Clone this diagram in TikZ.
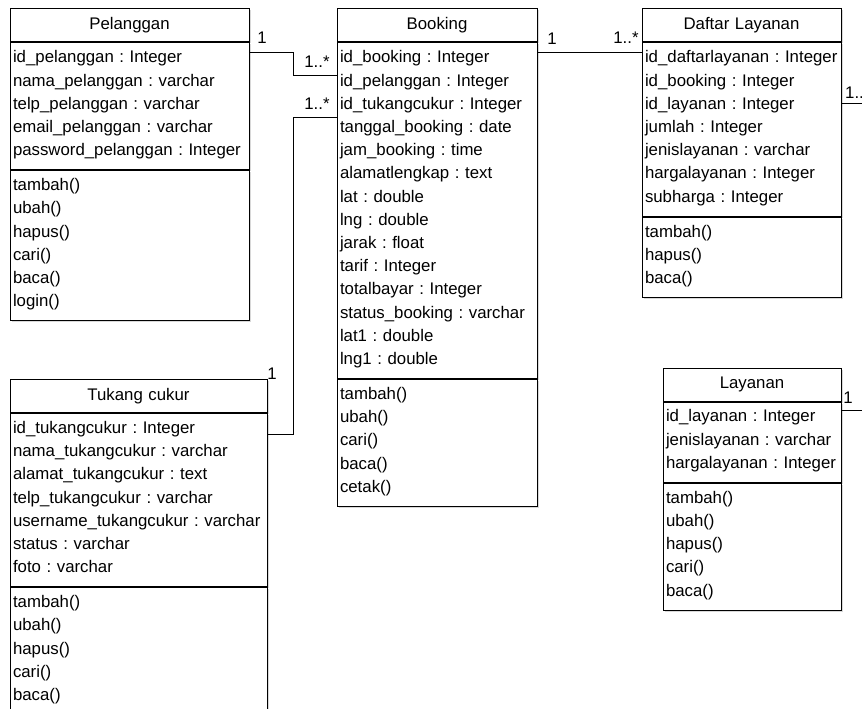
\documentclass[tikz,border=0pt]{standalone}
\usepackage{fontspec}
\setmainfont{Liberation Sans}
\usetikzlibrary{positioning,shadows}
\frenchspacing
\newcommand{\umlfont}{\fontsize{16.8pt}{23.2pt}\selectfont\hyphenpenalty=10000\exhyphenpenalty=10000}
\newcommand{\rs}{\rule[-8.7pt]{0pt}{23.2pt}}
\tikzset{
    boxshadow/.style={drop shadow={shadow xshift=1.5pt, shadow yshift=-1.5pt, fill=black!30}},
    classhead/.style={draw, fill=white, line width=1pt, boxshadow, minimum height=33pt, inner xsep=3pt, inner ysep=0pt, align=center, font=\umlfont},
    classbody/.style={draw, fill=white, line width=1pt, boxshadow, inner xsep=3pt, inner ysep=5.4pt, align=left, font=\umlfont},
    assoc/.style={line width=1pt},
    mult/.style={font=\umlfont, inner sep=0pt},
}
\begin{document}
\begin{tikzpicture}[x=1pt, y=-1pt]
    \fill[white] (0,0) rectangle (862,709);
    \useasboundingbox (0,0) rectangle (862,709);
    \clip (0,0) rectangle (862,709);

    % Pelanggan
    \node [classhead, text width=233pt] (plg) at (129.5,25.5) {Pelanggan};
    \node [classbody, text width=233pt, below=0pt of plg] (plg-attr) {\rs id\_pelanggan : Integer\\ \rs nama\_pelanggan : varchar\\ \rs telp\_pelanggan : varchar\\ \rs email\_pelanggan : varchar\\ \rs password\_pelanggan : Integer};
    \node [classbody, text width=233pt, below=0pt of plg-attr] (plg-op) {\rs tambah()\\ \rs ubah()\\ \rs hapus()\\ \rs cari()\\ \rs baca()\\ \rs login()};

    % Booking
    \node [classhead, text width=194pt] (bkg) at (437,25.5) {Booking};
    \node [classbody, text width=194pt, below=0pt of bkg] (bkg-attr) {\rs id\_booking : Integer\\ \rs id\_pelanggan : Integer\\ \rs id\_tukangcukur : Integer\\ \rs tanggal\_booking : date\\ \rs jam\_booking : time\\ \rs alamatlengkap : text\\ \rs lat : double\\ \rs lng : double\\ \rs jarak : float\\ \rs tarif : Integer\\ \rs totalbayar : Integer\\ \rs status\_booking : varchar\\ \rs lat1 : double\\ \rs lng1 : double};
    \node [classbody, text width=194pt, below=0pt of bkg-attr] (bkg-op) {\rs tambah()\\ \rs ubah()\\ \rs cari()\\ \rs baca()\\ \rs cetak()};

    % Daftar Layanan
    \node [classhead, text width=193pt] (dly) at (741.5,25.5) {Daftar Layanan};
    \node [classbody, text width=193pt, below=0pt of dly] (dly-attr) {\rs id\_daftarlayanan : Integer\\ \rs id\_booking : Integer\\ \rs id\_layanan : Integer\\ \rs jumlah : Integer\\ \rs jenislayanan : varchar\\ \rs hargalayanan : Integer\\ \rs subharga : Integer};
    \node [classbody, text width=193pt, below=0pt of dly-attr] (dly-op) {\rs tambah()\\ \rs hapus()\\ \rs baca()};

    % Tukang cukur
    \node [classhead, text width=251pt] (tkc) at (138.5,396) {Tukang cukur};
    \node [classbody, text width=251pt, below=0pt of tkc] (tkc-attr) {\rs id\_tukangcukur : Integer\\ \rs nama\_tukangcukur : varchar\\ \rs alamat\_tukangcukur : text\\ \rs telp\_tukangcukur : varchar\\ \rs username\_tukangcukur : varchar\\ \rs status : varchar\\ \rs foto : varchar};
    \node [classbody, text width=251pt, below=0pt of tkc-attr] (tkc-op) {\rs tambah()\\ \rs ubah()\\ \rs hapus()\\ \rs cari()\\ \rs baca()};

    % Layanan
    \node [classhead, text width=172pt] (lyn) at (752,384.5) {Layanan};
    \node [classbody, text width=172pt, below=0pt of lyn] (lyn-attr) {\rs id\_layanan : Integer\\ \rs jenislayanan : varchar\\ \rs hargalayanan : Integer};
    \node [classbody, text width=172pt, below=0pt of lyn-attr] (lyn-op) {\rs tambah()\\ \rs ubah()\\ \rs hapus()\\ \rs cari()\\ \rs baca()};

    % associations
    \draw [assoc] ([yshift=-10pt]plg-attr.north east) -- ++(44,0) |- ([yshift=-33pt]bkg-attr.north west);
    \draw [assoc] ([yshift=-21pt]tkc-attr.north east) -- ++(26,0) |- ([yshift=-75pt]bkg-attr.north west);
    \draw [assoc] ([yshift=-10pt]bkg-attr.north east) -- ([yshift=-10pt]dly-attr.north west);
    \draw [assoc] ([yshift=-61pt]dly-attr.north east) -- ++(40,0) |- ([yshift=-9pt]lyn-attr.north east);

    % multiplicities
    \node [mult] (m-plg) at (262,38) {1};
    \node [mult] (m-bkg1) at (317,62) {1..*};
    \node [mult] (m-bkg2) at (317,104) {1..*};
    \node [mult] (m-tkc) at (272,374) {1};
    \node [mult] (m-bkg3) at (552,39) {1};
    \node [mult] (m-dly1) at (626,38) {1..*};
    \node [mult, anchor=west] (m-dly2) at (845,93) {1..*};
    \node [mult] (m-lyn) at (848,398) {1};
\end{tikzpicture}
\end{document}
